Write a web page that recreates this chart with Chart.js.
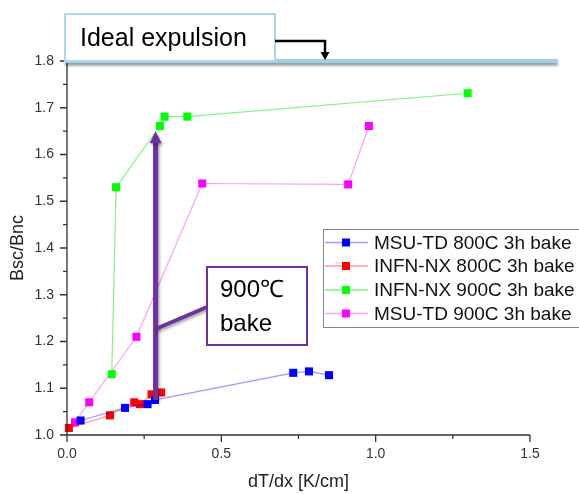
<!DOCTYPE html>
<html>
<head>
<meta charset="utf-8">
<script src="https://cdn.jsdelivr.net/npm/chart.js@4.4.0/dist/chart.umd.min.js"></script>
<style>
  html, body { margin: 0; padding: 0; background: #fff; }
  #wrap { width: 579px; height: 494px; position: relative; }
</style>
</head>
<body>
<div id="wrap"><canvas id="c" width="579" height="494"></canvas></div>
<script>
// data
const seriesNames = ["MSU-TD 800C 3h bake", "INFN-NX 800C 3h bake", "INFN-NX 900C 3h bake", "MSU-TD 900C 3h bake"];

const msu800X = [0.044, 0.188, 0.261, 0.285, 0.733, 0.784, 0.849];
const msu800Y = [1.031, 1.058, 1.066, 1.075, 1.133, 1.136, 1.128];

const infn800X = [0.006, 0.139, 0.218, 0.236, 0.274, 0.305];
const infn800Y = [1.015, 1.042, 1.070, 1.066, 1.087, 1.091];

const infn900X = [0.145, 0.159, 0.301, 0.316, 0.390, 1.298];
const infn900Y = [1.130, 1.530, 1.661, 1.681, 1.681, 1.731];

const msu900X = [0.026, 0.072, 0.225, 0.438, 0.911, 0.978];
const msu900Y = [1.027, 1.070, 1.210, 1.538, 1.536, 1.661];

const markerColors = ["#0000ff", "#ff0000", "#00ff00", "#ff00ff"];
const lineColors = ["rgba(0,0,255,0.4)", "rgba(255,0,0,0.4)", "rgba(0,235,0,0.5)", "rgba(255,0,255,0.4)"];

const xTicks = [0, 0.5, 1.0, 1.5];
const yTicks = [1.0, 1.1, 1.2, 1.3, 1.4, 1.5, 1.6, 1.7, 1.8];

const idealLevel = 1.8;
const arrowX = 0.287, arrowFrom = 1.075, arrowTo = 1.65;

function pts(xs, ys) {
  return xs.map((x, i) => ({ x: x, y: ys[i] }));
}

const allX = [msu800X, infn800X, infn900X, msu900X];
const allY = [msu800Y, infn800Y, infn900Y, msu900Y];

const datasets = seriesNames.map((name, i) => ({
  label: name,
  data: pts(allX[i], allY[i]),
  showLine: true,
  borderColor: lineColors[i],
  borderWidth: 1.2,
  pointStyle: "rect",
  pointRadius: 5.7,
  pointBackgroundColor: markerColors[i],
  pointBorderColor: markerColors[i],
  pointBorderWidth: 0,
  clip: false,
}));

const FONT = "'Liberation Sans', Arial, sans-serif";

// axis lines, major + minor ticks
const axesPlugin = {
  id: "axesPlugin",
  afterDraw(chart) {
    const ctx = chart.ctx;
    const xs = chart.scales.x, ys = chart.scales.y;
    const a = chart.chartArea;
    ctx.save();
    ctx.strokeStyle = "#333";
    ctx.lineWidth = 1.3;
    ctx.beginPath();
    ctx.moveTo(a.left, ys.getPixelForValue(1.8));
    ctx.lineTo(a.left, a.bottom);
    ctx.lineTo(xs.getPixelForValue(1.5), a.bottom);
    ctx.stroke();
    ctx.beginPath();
    for (let v = 0; v <= 1.5001; v += 0.25) {
      const px = xs.getPixelForValue(v);
      const major = Math.abs(v * 2 - Math.round(v * 2)) < 1e-6;
      ctx.moveTo(px, a.bottom);
      ctx.lineTo(px, a.bottom + (major ? 7 : 4));
    }
    for (let k = 0; k <= 16; k++) {
      const v = 1 + k * 0.05;
      const py = ys.getPixelForValue(v);
      const major = k % 2 === 0;
      ctx.moveTo(a.left, py);
      ctx.lineTo(a.left - (major ? 7 : 4), py);
    }
    ctx.stroke();
    ctx.restore();
  },
};

// annotations: ideal line, text boxes, arrows, legend
const notesPlugin = {
  id: "notesPlugin",
  afterDraw(chart) {
    const ctx = chart.ctx;
    const xs = chart.scales.x, ys = chart.scales.y;
    const a = chart.chartArea;
    ctx.save();

    // ideal expulsion line
    const yl = ys.getPixelForValue(idealLevel);
    ctx.save();
    ctx.shadowColor = "rgba(0,0,0,0.45)";
    ctx.shadowOffsetY = 2.5;
    ctx.shadowBlur = 3;
    ctx.strokeStyle = "#9fd0e4";
    ctx.lineWidth = 4;
    ctx.beginPath();
    ctx.moveTo(a.left - 2, yl);
    ctx.lineTo(xs.getPixelForValue(1.59), yl);
    ctx.stroke();
    ctx.restore();

    // ideal expulsion box
    ctx.fillStyle = "#fff";
    ctx.fillRect(65, 14, 210, 47);
    ctx.strokeStyle = "#a9d8ea";
    ctx.lineWidth = 2;
    ctx.strokeRect(65, 14, 210, 47);
    ctx.fillStyle = "#000";
    ctx.font = "25px " + FONT;
    ctx.textAlign = "left";
    ctx.textBaseline = "middle";
    ctx.fillText("Ideal expulsion", 80, 39);

    // black elbow arrow
    ctx.strokeStyle = "#000";
    ctx.lineWidth = 2.5;
    ctx.beginPath();
    ctx.moveTo(275, 41);
    ctx.lineTo(325, 41);
    ctx.lineTo(325, yl - 7);
    ctx.stroke();
    ctx.fillStyle = "#000";
    ctx.beginPath();
    ctx.moveTo(320.5, yl - 9);
    ctx.lineTo(329.5, yl - 9);
    ctx.lineTo(325, yl - 1);
    ctx.closePath();
    ctx.fill();

    // purple arrow
    const purple = "#7030a0";
    const ax = xs.getPixelForValue(arrowX);
    const ay0 = ys.getPixelForValue(arrowFrom);
    const ay1 = ys.getPixelForValue(arrowTo);
    ctx.save();
    ctx.shadowColor = "rgba(0,0,0,0.35)";
    ctx.shadowOffsetX = 1.5;
    ctx.shadowOffsetY = 2;
    ctx.shadowBlur = 3;
    ctx.strokeStyle = purple;
    ctx.lineWidth = 5;
    ctx.beginPath();
    ctx.moveTo(ax, ay0);
    ctx.lineTo(ax, ay1 + 10);
    ctx.stroke();
    ctx.fillStyle = purple;
    ctx.beginPath();
    ctx.moveTo(ax - 6, ay1 + 12);
    ctx.lineTo(ax + 6, ay1 + 12);
    ctx.lineTo(ax, ay1);
    ctx.closePath();
    ctx.fill();
    // connector to text box
    ctx.lineWidth = 4;
    ctx.beginPath();
    ctx.moveTo(ax, 329);
    ctx.lineTo(207, 307);
    ctx.stroke();
    ctx.restore();

    // 900C box
    ctx.fillStyle = "#fff";
    ctx.fillRect(207, 267, 100, 78);
    ctx.strokeStyle = purple;
    ctx.lineWidth = 2;
    ctx.strokeRect(207, 267, 100, 78);
    ctx.fillStyle = "#000";
    ctx.font = "24px " + FONT;
    ctx.textAlign = "left";
    ctx.fillText("900℃", 220, 290);
    ctx.fillText("bake", 220, 324);

    // legend
    ctx.fillStyle = "#fff";
    ctx.fillRect(323, 229, 280, 98);
    ctx.strokeStyle = "#888";
    ctx.lineWidth = 1;
    ctx.strokeRect(323.5, 229.5, 280, 98);
    ctx.font = "19px " + FONT;
    const rowY = [242.5, 266, 290, 313.5];
    chart.data.datasets.forEach((ds, i) => {
      const y = rowY[i];
      ctx.strokeStyle = ds.borderColor;
      ctx.lineWidth = 1.5;
      ctx.beginPath();
      ctx.moveTo(325, y);
      ctx.lineTo(368, y);
      ctx.stroke();
      ctx.fillStyle = ds.pointBackgroundColor;
      ctx.fillRect(342, y - 4, 8, 8);
      ctx.fillStyle = "#111";
      ctx.fillText(ds.label, 374, y + 1);
    });

    ctx.restore();
  },
};

new Chart(document.getElementById("c").getContext("2d"), {
  type: "scatter",
  data: { datasets: datasets },
  options: {
    responsive: false,
    animation: false,
    layout: { padding: { left: 0, right: 49, top: 61, bottom: 0 } },
    plugins: {
      legend: { display: false },
      tooltip: { enabled: false },
    },
    scales: {
      x: {
        type: "linear",
        min: 0,
        max: 1.5,
        afterFit(s) { s.height = 59; },
        afterBuildTicks(s) { s.ticks = xTicks.map((v) => ({ value: v })); },
        grid: { display: true, drawOnChartArea: false, tickLength: 7, tickColor: "rgba(0,0,0,0)" },
        border: { display: false },
        ticks: {
          padding: 4,
          color: "#333",
          font: { family: FONT, size: 14 },
          callback: (v) => v.toFixed(1),
        },
        title: {
          display: true,
          text: "dT/dx [K/cm]",
          color: "#222",
          font: { family: FONT, size: 18 },
          padding: { top: 2, bottom: 1 },
        },
      },
      y: {
        type: "linear",
        min: 1.0,
        max: 1.8,
        afterFit(s) { s.width = 67; },
        afterBuildTicks(s) { s.ticks = yTicks.map((v) => ({ value: v })); },
        grid: { display: true, drawOnChartArea: false, tickLength: 7, tickColor: "rgba(0,0,0,0)" },
        border: { display: false },
        ticks: {
          padding: 6,
          color: "#333",
          font: { family: FONT, size: 14 },
          callback: (v) => v.toFixed(1),
        },
        title: {
          display: true,
          text: "Bsc/Bnc",
          color: "#222",
          font: { family: FONT, size: 18 },
          padding: { top: 7, bottom: 0 },
        },
      },
    },
  },
  plugins: [axesPlugin, notesPlugin],
});
</script>
</body>
</html>
